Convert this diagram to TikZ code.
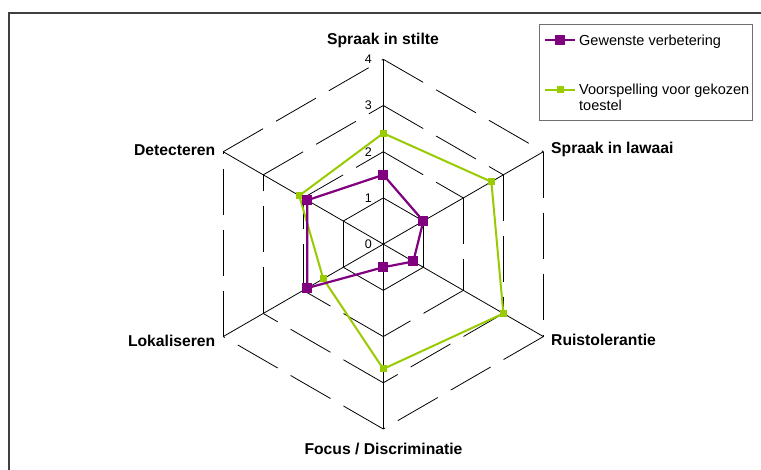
\documentclass[tikz,border=0pt]{standalone}
\usepackage{fontspec}
\setmainfont{Liberation Sans}
\usetikzlibrary{calc}
\definecolor{serieA}{HTML}{800080}
\definecolor{serieB}{HTML}{99CC00}
\definecolor{framegray}{HTML}{404040}
\definecolor{legendgray}{HTML}{707070}
\begin{document}
\begin{tikzpicture}[x=1pt,y=-1pt,
  gridline/.style={draw=black, line width=0.8pt, dash pattern=on 46pt off 15pt},
  axisline/.style={draw=black, line width=0.8pt},
  catlabel/.style={font=\fontsize{15.7}{18}\selectfont\bfseries, inner sep=0pt},
  ticklabel/.style={font=\fontsize{12.5}{14}\selectfont, inner sep=0pt, anchor=east},
  legtext/.style={font=\fontsize{14.5}{16}\selectfont, inner sep=0pt, anchor=base west},
  markA/.style={rectangle, fill=serieA, minimum size=10pt, inner sep=0pt},
  markB/.style={rectangle, fill=serieB, minimum size=7pt, inner sep=0pt},
  lineA/.style={draw=serieA, line width=2.2pt, line join=round},
  lineB/.style={draw=serieB, line width=2pt, line join=round}]
\useasboundingbox (0,0) rectangle (761,470);
\fill[white] (0,0) rectangle (761,470);

% chart-area frame: only its top and left edges fall on the page
\draw[framegray, line width=2pt] (9,480) -- (9,13) -- (775,13);

% radar centre and one scale unit
\coordinate (O) at (383.3,244.15);
\def\unitR{46.2125}

% grid vertices: level l, category k (k=0 at the top, clockwise)
\foreach \l in {1,...,4}{
  \foreach \k in {0,...,5}{
    \coordinate (g\l-\k) at ($(O)+(\k*60-90:\l*\unitR)$);
  }
}

% dashed hexagonal gridlines, one side at a time
\foreach \l in {1,...,4}{
  \foreach \k in {0,...,5}{
    \pgfmathtruncatemacro{\n}{mod(\k+1,6)}
    \draw[gridline] (g\l-\k) -- (g\l-\n);
  }
}

% category axes
\foreach \k in {0,...,5}{
  \draw[axisline] (O) -- (g4-\k);
}

% scale labels along the top axis
\foreach \l in {0,...,4}{
  \node[ticklabel] (t\l) at (372,244.15-\l*46.2125) {\l};
}

% category labels
\node[catlabel, anchor=base] (c0) at (383,44.7) {Spraak in stilte};
\node[catlabel, anchor=base west] (c1) at (551,154) {Spraak in lawaai};
\node[catlabel, anchor=base west] (c2) at (551,346) {Ruistolerantie};
\node[catlabel, anchor=base] (c3) at (383.5,454) {Focus / Discriminatie};
\node[catlabel, anchor=base east] (c4) at (215.5,346.5) {Lokaliseren};
\node[catlabel, anchor=base east] (c5) at (215.5,155.5) {Detecteren};

% series: Voorspelling voor gekozen toestel
\foreach \v [count=\k from 0] in {2.4,2.7,3.0,2.7,1.5,2.1}{
  \coordinate (pb\k) at ($(O)+(\k*60-90:\v*\unitR)$);
}
\draw[lineB] (pb0) -- (pb1) -- (pb2) -- (pb3) -- (pb4) -- (pb5) -- cycle;
\foreach \k in {0,...,5}{
  \node[markB] (mb\k) at (pb\k) {};
}

% series: Gewenste verbetering
\foreach \v [count=\k from 0] in {1.5,1.0,0.75,0.5,1.9,1.9}{
  \coordinate (pa\k) at ($(O)+(\k*60-90:\v*\unitR)$);
}
\draw[lineA] (pa0) -- (pa1) -- (pa2) -- (pa3) -- (pa4) -- (pa5) -- cycle;
\foreach \k in {0,...,5}{
  \node[markA] (ma\k) at (pa\k) {};
}

% legend
\node[draw=legendgray, line width=1pt, anchor=north west, inner sep=0pt,
      minimum width=213pt, minimum height=96pt] (legend) at (539,24) {};
\coordinate (la1) at (545,40);
\coordinate (la2) at (575,40);
\draw[lineA] (la1) -- (la2);
\node[markA] (lma) at (560,40) {};
\node[legtext] (lta) at (579,46) {Gewenste verbetering};
\coordinate (lb1) at (545,90);
\coordinate (lb2) at (575,90);
\draw[lineB] (lb1) -- (lb2);
\node[markB] (lmb) at (560,90) {};
\node[legtext] (ltb1) at (579,94.5) {Voorspelling voor gekozen};
\node[legtext] (ltb2) at (579,110.5) {toestel};
\end{tikzpicture}
\end{document}
